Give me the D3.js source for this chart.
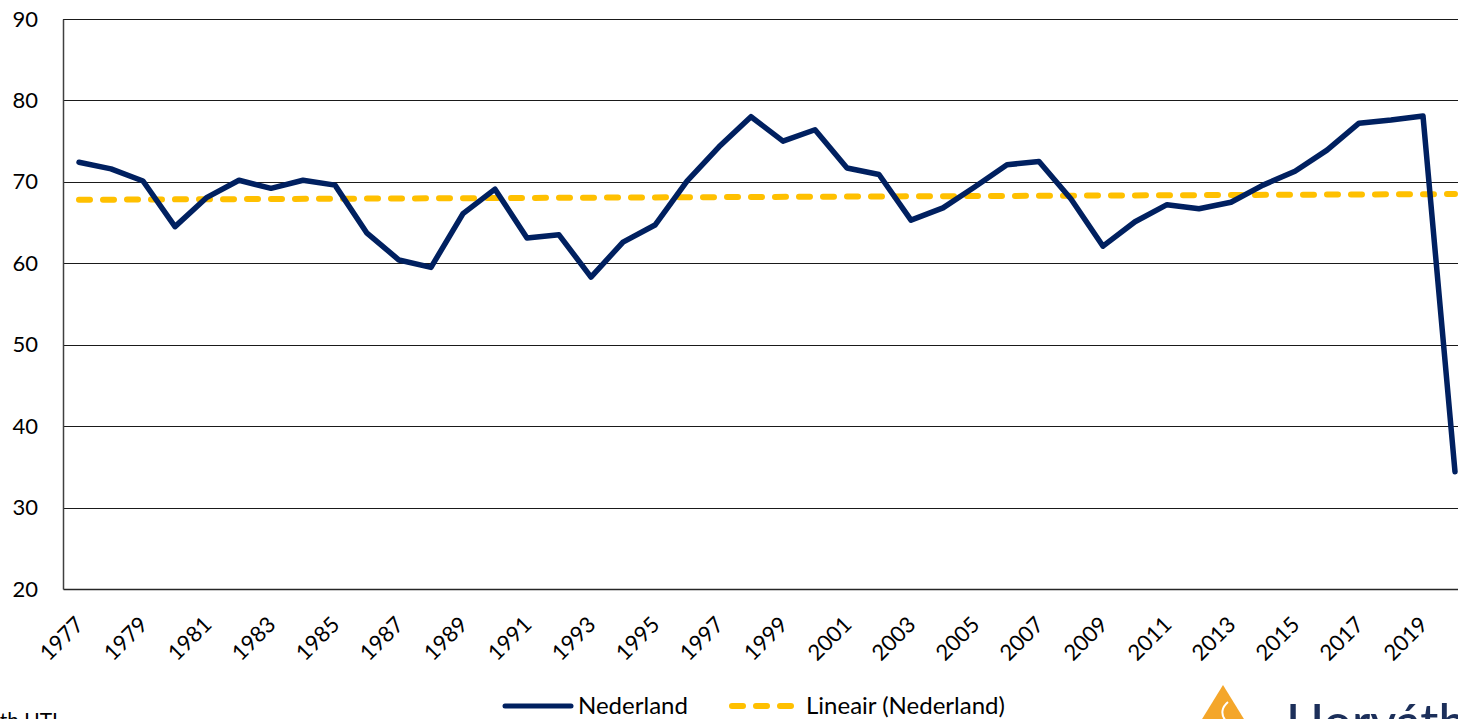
<!DOCTYPE html>
<html>
<head>
<meta charset="utf-8">
<script src="https://cdn.jsdelivr.net/npm/d3@7"></script>
<style>
  html, body { margin: 0; padding: 0; background: #fff; overflow: hidden; }
  svg { display: block; }
  text { font-family: Lato, "Noto Sans", sans-serif; fill: #000; }
</style>
</head>
<body>
<svg id="chart" width="1458" height="719"></svg>
<script>
// ---- data ----
const years = d3.range(1977, 2021).map(String);
const nederland = [72.4, 71.6, 70.1, 64.5, 68.1, 70.2, 69.2, 70.2, 69.6, 63.7,
                   60.4, 59.5, 66.1, 69.1, 63.1, 63.5, 58.3, 62.6, 64.7, 70.1,
                   74.3, 78.0, 75.0, 76.4, 71.7, 70.9, 65.3, 66.8, 69.4, 72.1,
                   72.5, 67.9, 62.1, 65.1, 67.2, 66.7, 67.5, 69.6, 71.3, 73.9,
                   77.2, 77.6, 78.1, 34.4];
const trendYears = ["1977", "2020"];
const trendValues = [67.8, 68.5];
const yTicks = [20, 30, 40, 50, 60, 70, 80, 90];
const xTickLabels = years.filter(y => +y % 2 === 1);
const legendLabels = ["Nederland", "Lineair (Nederland)"];

// ---- layout ----
const navy = "#002060", gold = "#FFC000";
const svg = d3.select("#chart");
const pLeft = 63, pRight = 1471, pTop = 19, pBottom = 589;

const x = d3.scaleBand().domain(years).range([pLeft, pRight]).paddingInner(0).paddingOuter(0);
const cx = d => x(d) + x.bandwidth() / 2;
const y = d3.scaleLinear().domain([20, 90]).range([pBottom, pTop]);

// gridlines
svg.append("g").selectAll("line").data(yTicks.filter(t => t > 20)).join("line")
  .attr("x1", pLeft).attr("x2", pRight)
  .attr("y1", d => Math.round(y(d)) + 0.5).attr("y2", d => Math.round(y(d)) + 0.5)
  .attr("stroke", "#1a1a1a").attr("stroke-width", 1);

// y axis
const yAxis = d3.axisLeft(y).tickValues(yTicks).tickSize(0).tickPadding(25);
const gy = svg.append("g").attr("transform", `translate(${pLeft},0)`).call(yAxis);
gy.select(".domain").attr("stroke", "#404040").attr("stroke-width", 1.5);
gy.selectAll("text").attr("font-size", 22).attr("font-family", "Lato, sans-serif").attr("fill", "#000");

// x axis
const xAxis = d3.axisBottom(x).tickValues(xTickLabels).tickSize(0).tickFormat(d => d);
const gx = svg.append("g").attr("transform", `translate(0,${pBottom})`).call(xAxis);
gx.select(".domain").attr("stroke", "#262626").attr("stroke-width", 1.5);
gx.selectAll("text")
  .attr("font-size", 22).attr("font-family", "Lato, sans-serif").attr("fill", "#000")
  .attr("text-anchor", "end").attr("dy", null).attr("y", 0)
  .attr("transform", "translate(6,37) rotate(-45)");

// trend line
const trendData = trendYears.map((d, i) => [cx(d), y(trendValues[i])]);
svg.append("path")
  .attr("d", d3.line()(trendData))
  .attr("fill", "none").attr("stroke", gold).attr("stroke-width", 6)
  .attr("stroke-dasharray", "11 13").attr("stroke-linecap", "round");

// main line
svg.append("path")
  .datum(nederland)
  .attr("d", d3.line().x((d, i) => cx(years[i])).y(d => y(d)))
  .attr("fill", "none").attr("stroke", navy).attr("stroke-width", 5.5)
  .attr("stroke-linejoin", "round").attr("stroke-linecap", "round");

// legend
const lg = svg.append("g");
lg.append("line").attr("x1", 505).attr("x2", 571).attr("y1", 706).attr("y2", 706)
  .attr("stroke", navy).attr("stroke-width", 5).attr("stroke-linecap", "round");
lg.append("text").attr("x", 578).attr("y", 714).attr("font-size", 24).text(legendLabels[0]);
lg.append("line").attr("x1", 732).attr("x2", 794).attr("y1", 706).attr("y2", 706)
  .attr("stroke", gold).attr("stroke-width", 6).attr("stroke-linecap", "round")
  .attr("stroke-dasharray", "11 13");
lg.append("text").attr("x", 806).attr("y", 714).attr("font-size", 24).text(legendLabels[1]);

// source (cropped)
svg.append("text").attr("x", 58).attr("y", 728).attr("text-anchor", "end")
  .attr("font-size", 21).text("th UTI");

// logo (cropped)
svg.append("path").attr("d", "M1223,685 L1199,724 L1247,724 Z").attr("fill", "#F4A62A");
svg.append("path").attr("d", "M1226,721 C1220,714 1222,707 1228,702")
  .attr("fill", "none").attr("stroke", "#fff").attr("stroke-width", 2);
svg.append("text").attr("x", 1286).attr("y", 740).attr("font-size", 50)
  .attr("font-family", "'Open Sans', sans-serif").attr("font-weight", 500)
  .style("fill", "#1C2F5A").text("Horváth");
</script>
</body>
</html>
